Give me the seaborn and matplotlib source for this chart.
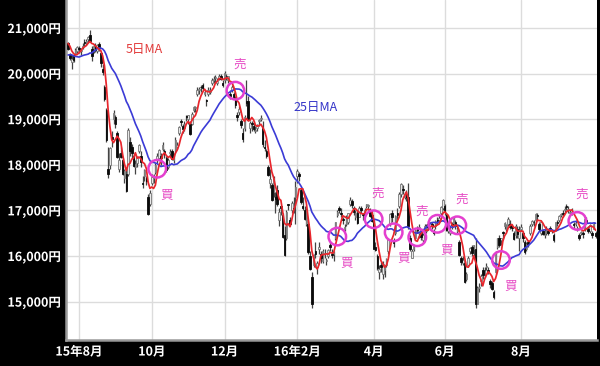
import numpy as np
import pandas as pd
import matplotlib
matplotlib.use("Agg")
import matplotlib.pyplot as plt
import matplotlib.patheffects as pe
import seaborn as sns

# ---------------- data ----------------
start_date = "2015-07-24"
end_date = "2016-09-30"
market_holidays = ["2015-09-21", "2015-09-22", "2015-09-23", "2015-10-12", "2015-11-03",
                   "2015-11-23", "2015-12-23", "2015-12-31", "2016-01-01", "2016-01-11",
                   "2016-02-11", "2016-03-21", "2016-04-29", "2016-05-03", "2016-05-04",
                   "2016-05-05", "2016-07-18", "2016-08-11", "2016-09-19", "2016-09-22"]

# closes of the 24 sessions before the window (seed for the moving averages)
pre_closes = [20174, 20428, 20809, 20868, 20771, 20706, 20109, 20235, 20329, 20522, 20539, 20112,
              20376, 19737, 19855, 19779, 20089, 20385, 20463, 20600, 20650, 20841, 20593, 20683]

opens = [
    # Jul 2015
    20680, 20420, 20250, 20400, 20420, 20500,
    # Aug
    20560, 20500, 20580, 20700, 20680, 20750, 20850, 20550, 20500, 20600, 20500, 20650, 20450, 20100,
    19700, 19200, 17900, 18000, 18600, 19000, 19050,
    # Sep
    18700, 17900, 18250, 18100, 17700, 17800, 17800, 18500, 18400, 18200, 17950, 18050, 18300, 18200,
    17600, 17750, 17700, 17300, 17150,
    # Oct
    17600, 17700, 17850, 18100, 18150, 18200, 18350, 18300, 18150, 17950, 18250, 18300, 18100, 18300,
    18400, 18700, 18950, 18850, 18800, 19050, 19000,
    # Nov
    18900, 18900, 19200, 19250, 19550, 19650, 19700, 19750, 19550, 19400, 19550, 19600, 19800, 19850,
    19900, 19800, 19900, 19950, 19800,
    # Dec
    19850, 19950, 19850, 19550, 19650, 19550, 19450, 19100, 19150, 18950, 18700, 18800, 19400, 19400,
    18800, 18900, 18850, 18750, 18800, 18950, 19000,
    # Jan 2016
    18800, 18400, 18300, 17950, 17600, 17550, 17400, 17300, 17450, 16800, 17100, 16900, 16450, 16400,
    17150, 16800, 17000, 17050, 17300,
    # Feb
    17750, 17800, 17450, 17100, 17000, 16700, 16700, 16000, 15550, 15800, 16100, 15750, 16150, 16050,
    15900, 16050, 15900, 16000, 16250, 16050,
    # Mar
    16050, 16400, 16900, 17050, 16950, 16800, 16600, 16700, 16750, 17150, 17200, 17050, 16850, 16950,
    16850, 17050, 16900, 16950, 17100, 17100, 17000, 16900,
    # Apr
    16750, 16200, 16000, 15650, 15800, 15600, 15700, 15800, 16100, 16700, 16950, 16300, 16500, 16950,
    17100, 17350, 17450, 17300, 17350, 17300,
    # May
    16400, 15950, 16150, 16400, 16600, 16500, 16500, 16350, 16550, 16550, 16700, 16650, 16700, 16550,
    16650, 16800, 16800, 16950, 17050,
    # Jun
    17100, 16900, 16550, 16500, 16700, 16700, 16750, 16550, 16300, 15950, 15850, 15850, 15500, 15800,
    16100, 16200, 16150, 16150, 14950, 15300, 15450, 15700,
    # Jul
    15600, 15750, 15700, 15450, 15400, 15200, 15650, 16200, 16400, 16350, 16500, 16650, 16600, 16700,
    16700, 16650, 16500, 16450, 16600, 16400,
    # Aug
    16600, 16500, 16300, 16150, 16300, 16500, 16700, 16750, 16800, 16900, 16700, 16500, 16550, 16450,
    16500, 16550, 16600, 16550, 16450, 16600, 16750, 16800,
    # Sep
    16900, 16950, 17000, 17100, 17000, 16950, 16950, 16700, 16700, 16600, 16450, 16500, 16500, 16600,
    16800, 16600, 16550, 16500, 16600, 16500,
]

highs = [
    20700, 20450, 20400, 20420, 20560, 20600,
    20600, 20560, 20680, 20750, 20750, 20830, 20946, 20600, 20650, 20680, 20650, 20700, 20480, 20200,
    19750, 19250, 18400, 18400, 18750, 19200, 19100,
    18750, 18250, 18400, 18150, 17900, 17900, 18800, 18600, 18450, 18250, 18100, 18200, 18450, 18300,
    17750, 17900, 17750, 17350, 17450,
    17800, 17800, 18050, 18250, 18350, 18250, 18500, 18350, 18200, 18150, 18350, 18350, 18250, 18600,
    18500, 18850, 19000, 18900, 18950, 19100, 19100,
    18950, 19150, 19300, 19300, 19700, 19700, 19750, 19800, 19650, 19450, 19700, 19700, 19900, 19950,
    19970, 19900, 20000, 20000, 19850,
    20050, 20000, 19950, 19650, 19750, 19600, 19500, 19150, 19300, 19000, 18800, 19100, 19870, 19500,
    18950, 18950, 18950, 18850, 18900, 19000, 19100,
    18950, 18550, 18350, 18000, 17900, 17600, 17750, 17400, 17550, 17050, 17100, 16950, 16650, 17000,
    17150, 16850, 17200, 17300, 17650,
    17900, 17850, 17500, 17300, 17100, 17050, 16750, 16100, 15650, 16050, 16300, 15900, 16300, 16100,
    16150, 16150, 15950, 16150, 16300, 16150,
    16100, 16750, 17000, 17100, 17050, 16850, 16700, 16900, 16950, 17300, 17250, 17100, 17000, 17000,
    17100, 17100, 16950, 17050, 17150, 17150, 17050, 17000,
    16800, 16300, 16050, 15800, 15900, 15900, 15800, 15950, 16400, 16950, 17000, 16400, 16900, 17050,
    17400, 17600, 17550, 17400, 17450, 17600,
    16450, 16150, 16250, 16600, 16650, 16700, 16550, 16500, 16700, 16700, 16750, 16750, 16750, 16600,
    16800, 16850, 16900, 17100, 17250,
    17150, 16950, 16700, 16650, 16750, 16850, 16800, 16650, 16350, 16000, 16000, 15900, 15650, 16000,
    16200, 16250, 16250, 16400, 15350, 15400, 15600, 15750,
    15750, 15850, 15750, 15500, 15450, 15250, 16100, 16400, 16450, 16400, 16550, 16750, 16700, 16850,
    16800, 16700, 16550, 16700, 16650, 16650,
    16700, 16550, 16350, 16300, 16350, 16700, 16800, 16800, 16950, 16950, 16750, 16800, 16600, 16600,
    16650, 16600, 16650, 16600, 16500, 16750, 16800, 16900,
    16950, 17000, 17100, 17150, 17100, 17000, 17050, 16750, 16800, 16650, 16500, 16550, 16550, 16850,
    16850, 16650, 16700, 16550, 16750, 16550,
]

lows = [
    20510, 20300, 20100, 20250, 20400, 20450,
    20460, 20400, 20540, 20600, 20620, 20700, 20700, 20280, 20450, 20470, 20450, 20500, 20150, 19980,
    19400, 18500, 17714, 17900, 18400, 18900, 18800,
    18150, 17850, 18150, 17780, 17600, 17400, 17750, 18200, 18150, 17950, 17800, 17950, 18250, 17950,
    17500, 17650, 17550, 16900, 17100,
    17550, 17600, 17800, 18050, 18100, 18000, 18300, 18150, 17850, 17900, 18200, 18100, 18050, 18250,
    18350, 18650, 18850, 18700, 18750, 18950, 18900,
    18650, 18880, 19150, 19150, 19500, 19550, 19600, 19650, 19500, 19300, 19500, 19550, 19750, 19800,
    19800, 19750, 19850, 19850, 19700,
    19800, 19850, 19800, 19450, 19600, 19450, 19250, 18950, 19100, 18800, 18500, 18750, 19300, 18950,
    18700, 18750, 18750, 18700, 18750, 18850, 18950,
    18400, 18300, 18150, 17750, 17500, 17200, 17300, 16950, 17100, 16650, 16900, 16400, 16000, 16350,
    17000, 16650, 16950, 16950, 16700,
    17600, 17650, 17150, 17000, 16800, 16650, 16050, 15700, 14865, 15750, 15950, 15600, 16050, 15850,
    15850, 15950, 15800, 15950, 16100, 15950,
    15900, 16350, 16850, 16950, 16850, 16700, 16550, 16650, 16700, 17100, 17050, 16900, 16800, 16700,
    16850, 16950, 16800, 16900, 17050, 17000, 16850, 16750,
    16150, 16100, 15700, 15500, 15650, 15500, 15550, 15750, 16050, 16650, 16750, 16200, 16450, 16800,
    17050, 17300, 17350, 17250, 17200, 16600,
    16100, 15950, 16100, 16350, 16500, 16400, 16350, 16300, 16500, 16500, 16600, 16600, 16600, 16450,
    16600, 16700, 16750, 16900, 17000,
    16900, 16550, 16500, 16450, 16600, 16650, 16600, 16500, 16000, 15800, 15800, 15400, 15450, 15750,
    16050, 16000, 16000, 14864, 14950, 15200, 15350, 15500,
    15550, 15700, 15600, 15300, 15250, 15050, 15600, 16150, 16200, 16250, 16400, 16600, 16550, 16650,
    16600, 16550, 16350, 16400, 16400, 16100,
    16550, 16300, 16050, 16100, 16200, 16450, 16650, 16650, 16750, 16800, 16550, 16450, 16450, 16400,
    16450, 16450, 16550, 16500, 16300, 16550, 16650, 16750,
    16850, 16850, 16950, 17000, 16950, 16900, 16900, 16600, 16650, 16550, 16350, 16450, 16400, 16550,
    16700, 16500, 16500, 16400, 16600, 16400,
]

closes = [
    20544, 20350, 20328, 20302, 20522, 20585,
    20548, 20520, 20614, 20664, 20724, 20808, 20720, 20392, 20596, 20519, 20620, 20554, 20222, 20033,
    19435, 18540, 17806, 18376, 18574, 19136, 18890,
    18165, 18095, 18182, 17792, 17860, 17427, 18770, 18299, 18264, 17965, 18026, 18171, 18432, 18070,
    17571, 17880, 17645, 16930, 17388,
    17722, 17725, 18005, 18186, 18322, 18141, 18438, 18234, 17891, 18096, 18291, 18131, 18207, 18554,
    18435, 18825, 18947, 18777, 18903, 19041, 19083,
    18683, 19116, 19265, 19265, 19642, 19671, 19697, 19691, 19596, 19393, 19649, 19649, 19859, 19879,
    19924, 19847, 19944, 19883, 19747,
    20012, 19938, 19939, 19504, 19698, 19492, 19301, 19047, 19230, 18883, 18565, 19049, 19353, 18986,
    18916, 18886, 18789, 18769, 18873, 18982, 19033,
    18450, 18374, 18191, 17767, 17697, 17218, 17715, 17240, 17147, 16955, 17048, 16416, 16017, 16958,
    17110, 16708, 17163, 17041, 17518,
    17865, 17750, 17191, 17044, 16819, 17004, 16085, 15713, 14952, 16022, 16054, 15836, 16196, 15967,
    16111, 16052, 15915, 16140, 16188, 16026,
    16085, 16747, 16960, 17015, 16911, 16784, 16642, 16852, 16939, 17233, 17117, 16974, 16936, 16724,
    17048, 17000, 16892, 17002, 17134, 17103, 16879, 16759,
    16164, 16123, 15733, 15715, 15750, 15822, 15751, 15928, 16381, 16911, 16848, 16276, 16874, 16906,
    17364, 17572, 17440, 17353, 17290, 16666,
    16147, 16106, 16216, 16565, 16579, 16646, 16412, 16466, 16652, 16644, 16646, 16736, 16654, 16498,
    16757, 16772, 16834, 17068, 17234,
    16955, 16562, 16642, 16580, 16675, 16830, 16668, 16601, 16019, 15859, 15919, 15434, 15599, 15965,
    16169, 16065, 16238, 14952, 15309, 15323, 15566, 15575,
    15682, 15775, 15669, 15378, 15276, 15106, 16095, 16385, 16231, 16385, 16497, 16723, 16681, 16810,
    16627, 16620, 16383, 16664, 16476, 16569,
    16635, 16391, 16083, 16254, 16254, 16650, 16764, 16735, 16919, 16869, 16596, 16745, 16486, 16545,
    16598, 16497, 16597, 16556, 16360, 16737, 16725, 16887,
    16926, 16925, 17037, 17081, 17012, 16958, 16965, 16672, 16729, 16614, 16405, 16519, 16492, 16807,
    16754, 16544, 16683, 16465, 16693, 16449,
]

tick_months = ["2015-08-01", "2015-10-01", "2015-12-01", "2016-02-01", "2016-04-01", "2016-06-01", "2016-08-01"]
tick_labels = ["15年8月", "10月", "12月", "16年2月", "4月", "6月", "8月"]
y_ticks = [15000, 16000, 17000, 18000, 19000, 20000, 21000]
y_tick_labels = ["15,000円", "16,000円", "17,000円", "18,000円", "19,000円", "20,000円", "21,000円"]

signal_dates = ["2015-10-06", "2015-12-09", "2016-03-03", "2016-04-01", "2016-04-18",
                "2016-05-11", "2016-05-26", "2016-06-10", "2016-07-14", "2016-09-14"]
signal_kinds = ["買", "売", "買", "売", "買", "売", "買", "売", "買", "売"]

# ---------------- build table ----------------
days = pd.bdate_range(start_date, end_date, freq="C", holidays=market_holidays)
n = len(days)
df = pd.DataFrame({"date": days[:n], "open": opens[:n], "high": highs[:n],
                   "low": lows[:n], "close": closes[:n]})
df["i"] = np.arange(len(df))
all_close = pd.Series(pre_closes + list(df["close"]))
df["ma5"] = all_close.rolling(5).mean().iloc[len(pre_closes):].values
df["ma25"] = all_close.rolling(25).mean().iloc[len(pre_closes):].values

# ---------------- style ----------------
sns.set_theme(style="whitegrid")
plt.rcParams["font.family"] = ["Noto Sans CJK JP", "DejaVu Sans"]

fig = plt.figure(figsize=(6.0, 3.66), dpi=100, facecolor="black")
ax = fig.add_axes([66 / 600, 1 - 340 / 366, (597 - 66) / 600, 340 / 366])
ax.set_facecolor("white")

# candles
up = df["close"] >= df["open"]
ax.vlines(df["i"], df["low"], df["high"], color="#444444", linewidth=0.9, zorder=2)
body_lo = df[["open", "close"]].min(axis=1)
body_h = (df["close"] - df["open"]).abs().clip(lower=20)
ax.bar(df["i"][up], body_h[up], bottom=body_lo[up], width=0.85,
       facecolor="#e8e8e8", edgecolor="#777777", linewidth=0.6, zorder=3)
ax.bar(df["i"][~up], body_h[~up], bottom=body_lo[~up], width=0.85,
       facecolor="#0a0a0a", edgecolor="#0a0a0a", linewidth=0.6, zorder=3)

# moving averages
sns.lineplot(data=df, x="i", y="ma25", color="#3b3bd6", linewidth=1.2, ax=ax, zorder=4)
sns.lineplot(data=df, x="i", y="ma5", color="#e8262c", linewidth=1.25, ax=ax, zorder=5)

# signals
sig = df.set_index("date").loc[pd.to_datetime(signal_dates)]
sig_y = (sig["ma5"] + sig["ma25"]) / 2
ax.scatter(sig["i"], sig_y, s=160, facecolors="none", edgecolors="#e43fcf",
           linewidths=1.8, zorder=6)
for xi, yi, kind in zip(sig["i"], sig_y, signal_kinds):
    off = (3, 19) if kind == "売" else (7, -19)
    ax.annotate(kind, (xi, yi), xytext=off, textcoords="offset points",
                ha="center", va="center", fontsize=9, color="#e649c4", zorder=7)

ax.text(42, 20520, "5日MA", color="#e23a3a", fontsize=9, ha="center", va="center")
ax.text(136, 19250, "25日MA", color="#3434c8", fontsize=9, ha="center", va="center")

# axes
first_idx = [int(df.index[df["date"] >= pd.Timestamp(m)][0]) for m in tick_months]
ax.set_xticks(first_idx)
ax.set_xticklabels(tick_labels)
ax.set_yticks(y_ticks)
ax.set_yticklabels(y_tick_labels)
ax.set_xlim(-1.15, 290.8)
ax.set_ylim(14158, 21614)
ax.set_xlabel("")
ax.set_ylabel("")
ax.grid(True, color="#dcdcdc", linewidth=1.0)
for s in ["top", "right"]:
    ax.spines[s].set_visible(False)
for s in ["left", "bottom"]:
    ax.spines[s].set_visible(True)
    ax.spines[s].set_color("#999999")
    ax.spines[s].set_linewidth(1.8)
ax.tick_params(axis="both", length=0, pad=4)
stroke = [pe.withStroke(linewidth=2.5, foreground="black")]
for lab in ax.get_xticklabels() + ax.get_yticklabels():
    lab.set_color("white")
    lab.set_fontsize(9)
    lab.set_fontweight("bold")
    lab.set_path_effects(stroke)

fig.savefig("out.png", dpi=100, facecolor="black")
